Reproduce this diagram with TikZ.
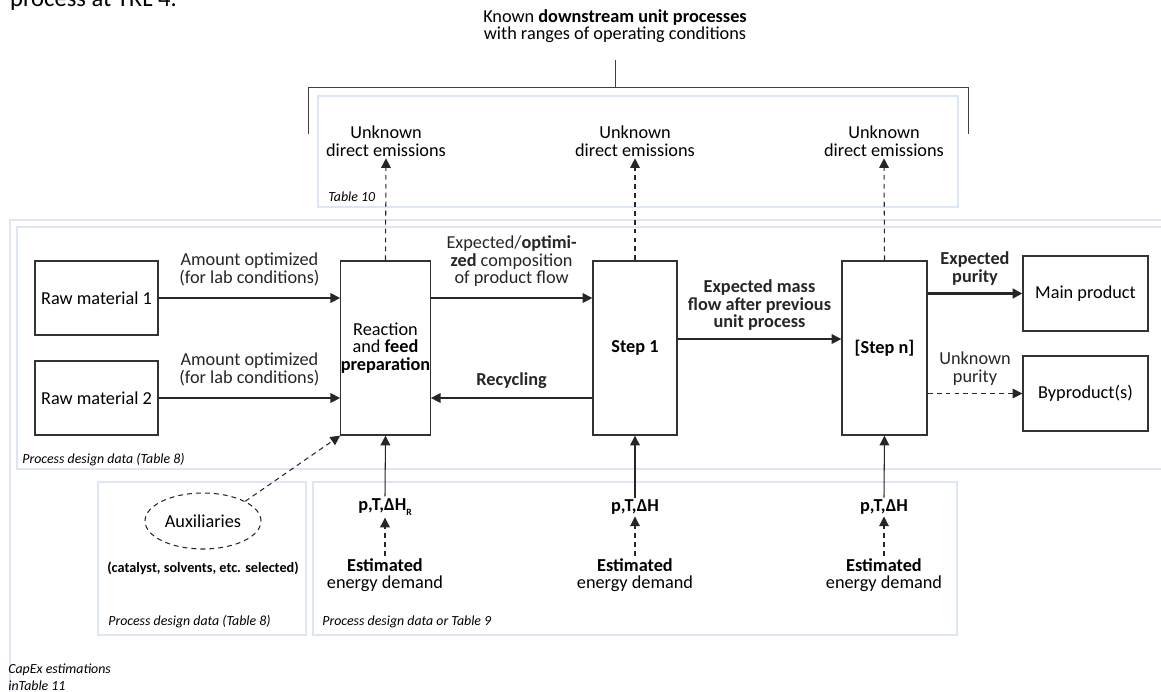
\documentclass[tikz,border=0pt]{standalone}
\usepackage{fontspec}
\setmainfont{Carlito}
\usepackage{xcolor}
\usepackage{tikz}
\usetikzlibrary{arrows.meta,positioning,shapes.geometric}
\definecolor{framebl}{RGB}{222,229,245}

\begin{document}
\begin{tikzpicture}[x=0.02cm,y=-0.02cm,
  txt/.style={font=\fontsize{10.4}{10}\selectfont,align=center,inner sep=1pt},
  btxt/.style={txt,font=\fontsize{10.4}{10}\selectfont\bfseries},
  note/.style={font=\fontsize{7.9}{9.2}\selectfont\itshape,inner sep=0pt,align=left},
  unitbox/.style={draw=black!80,line width=0.75pt,txt},
  flow/.style={-{Triangle[length=5.5pt,width=5.5pt]},line width=0.6pt,black!85},
  dflow/.style={flow,dash pattern=on 2.8pt off 2.3pt},
  frm/.style={draw=framebl,line width=1.6pt}]
\clip (0,0) rectangle (1161,691);
\node[txt,anchor=base west,font=\fontsize{14}{16}\selectfont] (caption) at (8,6) {process at TRL 4.};
\draw[frm] (10,720) -- (10,220) -- (1190,220);
\draw[frm] (17,227) rectangle (1190,469);
\draw[frm] (318,96) rectangle (958,207);
\draw[frm] (98,482) rectangle (306,635);
\draw[frm] (313,482) rectangle (957,635);
\node[note,anchor=base west] (tab10) at (328,201) {Table 10};
\node[note,anchor=base west] (tab8a) at (22,463) {Process design data (Table 8)};
\node[note,anchor=base west] (tab8b) at (108,625) {Process design data (Table 8)};
\node[note,anchor=base west] (tab9) at (322,625) {Process design data or Table 9};
\node[note,anchor=north west] (tab11) at (8,664) {CapEx estimations\\inTable 11};
\node[txt] (known) at (615,26) {Known \textbf{downstream unit processes}\\with ranges of operating conditions};
\coordinate (brk) at (615,87);
\draw[line width=0.5pt,black!75,shorten <=0.3cm] (known.south) -- (brk);
\draw[line width=0.5pt,black!75] (308,134) -- (308,87) -- (968,87) -- (968,134);
\node[unitbox,minimum width=2.46cm,minimum height=1.48cm] (raw1) at (96.5,298) {Raw material 1};
\node[unitbox,minimum width=2.46cm,minimum height=1.48cm] (raw2) at (96.5,398) {Raw material 2};
\node[unitbox,minimum width=1.7cm,minimum height=3.48cm,inner sep=0pt] (react) at (385.5,348) {Reaction\\and \textbf{feed}\\\textbf{preparation}};
\node[unitbox,btxt,minimum width=1.68cm,minimum height=3.48cm] (step1) at (635,348) {Step 1};
\node[unitbox,btxt,minimum width=1.7cm,minimum height=3.48cm] (stepn) at (884.5,348) {[Step n]};
\node[unitbox,minimum width=2.5cm,minimum height=1.5cm] (main) at (1085.5,293.5) {Main product};
\node[unitbox,minimum width=2.5cm,minimum height=1.5cm] (byprod) at (1085.5,393.5) {Byproduct(s)};
\node[txt] (em1) at (386,141) {Unknown\\direct emissions};
\node[txt] (em2) at (635,141) {Unknown\\direct emissions};
\node[txt] (em3) at (884,141) {Unknown\\direct emissions};
\draw[dflow] (react.north) -- (em1.south);
\draw[dflow] (step1.north) -- (em2.south);
\draw[dflow] (stepn.north) -- (em3.south);
\draw[flow] (raw1.east) -- (raw1.east-|react.west) node[midway,above=5.5pt,txt]{Amount optimized\\(for lab conditions)};
\draw[flow] (raw2.east) -- (raw2.east-|react.west) node[midway,above=5.5pt,txt]{Amount optimized\\(for lab conditions)};
\draw[flow] (react.east|-raw1.east) -- (step1.west|-raw1.east) node[midway,above=5pt,txt]{Expected/\textbf{optimi-}\\\textbf{zed} composition\\of product flow};
\draw[flow] (step1.west|-raw2.east) -- (react.east|-raw2.east) node[midway,above=4pt,btxt]{Recycling};
\draw[flow] ([yshift=0.18cm]step1.east) -- ([yshift=0.18cm]stepn.west) node[midway,above=3.5pt,btxt]{Expected mass\\flow after previous\\unit process};
\draw[flow,line width=1.4pt] (stepn.east|-main.west) -- (main.west) node[midway,above=3pt,btxt]{Expected\\purity};
\draw[dflow] (stepn.east|-byprod.west) -- (byprod.west) node[midway,above=3.5pt,txt]{Unknown\\purity};
\node[btxt] (pt1) at (385,507) {p,T,ΔH\raisebox{-0.6ex}{\fontsize{5.5}{6}\selectfont R}};
\node[btxt] (pt2) at (635,507) {p,T,ΔH};
\node[btxt] (pt3) at (884,507) {p,T,ΔH};
\node[txt] (est1) at (385,575) {\textbf{Estimated}\\energy demand};
\node[txt] (est2) at (635,575) {\textbf{Estimated}\\energy demand};
\node[txt] (est3) at (884,575) {\textbf{Estimated}\\energy demand};
\draw[flow] (pt1.north) -- (react.south);
\draw[flow] (pt2.north) -- (step1.south);
\draw[flow] (pt3.north) -- (stepn.south);
\draw[dflow] (est1.north) -- (pt1.south);
\draw[dflow] (est2.north) -- (pt2.south);
\draw[dflow] (est3.north) -- (pt3.south);
\node[ellipse,draw=black!85,dash pattern=on 2.8pt off 2.3pt,line width=0.6pt,txt,minimum width=2.32cm,minimum height=1.12cm] (aux) at (203,521) {Auxiliaries};
\node[txt,font=\fontsize{8.1}{9}\selectfont\bfseries] (auxnote) at (203,568) {(catalyst, solvents, etc. selected)};
\draw[dflow] (aux.25) -- (react.south west);
\end{tikzpicture}
\end{document}
